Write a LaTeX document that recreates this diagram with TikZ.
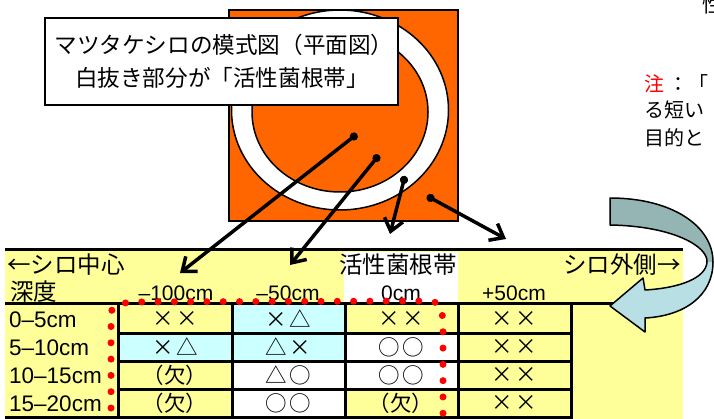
\documentclass[tikz,border=0pt]{standalone}
\usepackage{fontspec}
\setmainfont{Noto Sans CJK JP}
\newfontfamily\latf{Liberation Sans}
\usetikzlibrary{arrows.meta}
\definecolor{orng}{HTML}{FF6600}
\definecolor{ylw}{HTML}{FFFF99}
\definecolor{cyn}{HTML}{CCFFFF}
\definecolor{arrdark}{HTML}{95B4B4}
\definecolor{arrlight}{HTML}{B8DFE4}
\newcommand{\pairsym}[2]{\makebox[24pt]{#1}\makebox[24pt]{#2}}
\begin{document}
\begin{tikzpicture}[x=1pt,y=-1pt,
  gridline/.style={line width=3pt},
  pointer/.style={line width=3.5pt, {Circle[length=8pt]}-{Straight Barb[length=12pt,width=19pt]}},
  hdr/.style={font=\fontsize{23.5}{24}\selectfont, inner sep=0pt},
  colhdr/.style={font=\latf\fontsize{21}{22}\selectfont, inner sep=0pt},
  rowhdr/.style={font=\latf\fontsize{22.5}{23}\selectfont, inner sep=0pt, anchor=west},
  cellt/.style={font=\fontsize{21.5}{22}\selectfont, inner sep=0pt},
  note/.style={font=\fontsize{20}{22}\selectfont, inner sep=0pt, anchor=west},
  lbltext/.style={font=\fontsize{22.6}{24}\selectfont, inner sep=0pt},
  reddots/.style={red, line width=7pt, line cap=round, dash pattern=on 0pt off 16.3pt}]
\useasboundingbox (0,0) rectangle (714,419);
\clip (0,0) rectangle (714,419);
\fill[white] (0,0) rectangle (714,419);
% table backgrounds
\fill[ylw] (5,250) rectangle (683,419);
\fill[white] (344,252) rectangle (458,303);
\fill[cyn] (232,304) rectangle (345,361);
\fill[cyn] (118,333) rectangle (232,361);
\fill[white] (345,333) rectangle (458,389);
\fill[white] (232,361) rectangle (345,417);
% grid lines
\draw[gridline] (5,250) -- (683,250);
\draw[gridline] (5,304) -- (683,304);
\foreach \yy in {333,361,389} \draw[gridline] (118,\yy) -- (571,\yy);
\draw[gridline] (5,417) -- (571,417);
\foreach \xx in {118,232,345,458,571} \draw[gridline] (\xx,304) -- (\xx,419);
% header texts
\node[hdr, anchor=west] (hc) at (7,265) {←シロ中心};
\node[hdr, anchor=west] (hz) at (339,265) {活性菌根帯};
\node[hdr, anchor=east] (ho) at (681,265) {シロ外側→};
\node[hdr, anchor=west] (hd) at (10,292) {深度};
\node[colhdr] (c1) at (176,293) {–100cm};
\node[colhdr] (c2) at (288,293) {–50cm};
\node[colhdr] (c3) at (401,293) {0cm};
\node[colhdr] (c4) at (514,293) {+50cm};
% row labels
\node[rowhdr] (r1) at (9,320) {0–5cm};
\node[rowhdr] (r2) at (9,348) {5–10cm};
\node[rowhdr] (r3) at (9,376) {10–15cm};
\node[rowhdr] (r4) at (9,404) {15–20cm};
% cells
\node[cellt] (a11) at (175,319) {\pairsym{×}{×}};
\node[cellt] (a12) at (288,319) {\pairsym{×}{△}};
\node[cellt] (a13) at (401,319) {\pairsym{×}{×}};
\node[cellt] (a14) at (514,319) {\pairsym{×}{×}};
\node[cellt] (a21) at (175,347) {\pairsym{×}{△}};
\node[cellt] (a22) at (288,347) {\pairsym{△}{×}};
\node[cellt] (a23) at (401,347) {\pairsym{○}{○}};
\node[cellt] (a24) at (514,347) {\pairsym{×}{×}};
\node[cellt] (a31) at (175,375) {（欠）};
\node[cellt] (a32) at (288,375) {\pairsym{△}{○}};
\node[cellt] (a33) at (401,375) {\pairsym{○}{○}};
\node[cellt] (a34) at (514,375) {\pairsym{×}{×}};
\node[cellt] (a41) at (175,403) {（欠）};
\node[cellt] (a42) at (288,403) {\pairsym{○}{○}};
\node[cellt] (a43) at (401,403) {（欠）};
\node[cellt] (a44) at (514,403) {\pairsym{×}{×}};
% red dotted outline
\draw[reddots] (111,408) -- (111,322) .. controls (111,306) .. (130,302) -- (423,301) .. controls (441,302) .. (443,322) -- (443,430);
% schematic plan
\draw[fill=orng, line width=1.5pt] (229,10) rectangle (458,221);
\draw[fill=white, line width=1.5pt] (340,110) ellipse [x radius=108.5pt, y radius=100pt];
\draw[fill=orng, line width=1.5pt] (340,112) ellipse [x radius=88pt, y radius=80pt];
% pointers
\coordinate (d1) at (357,134); \coordinate (t1) at (180,273);
\coordinate (d2) at (379,155); \coordinate (t2) at (290,265);
\coordinate (d3) at (405,176); \coordinate (t3) at (390,234);
\coordinate (d4) at (427,196); \coordinate (t4) at (506,239);
\draw[pointer] (d1) -- (t1);
\draw[pointer] (d2) -- (t2);
\draw[pointer] (d3) -- (t3);
\draw[pointer] (d4) -- (t4);
% label box
\node[draw, fill=white, line width=1.5pt, minimum width=353pt, minimum height=87pt, inner sep=0pt] (lbl) at (221.5,61.5) {};
\node[lbltext] (l1) at (224,45) {マツタケシロの模式図（平面図）};
\node[lbltext] (l2) at (222,78) {白抜き部分が「活性菌根帯」};
% note (cut off at right, as in the source)
\node[note] (n0) at (702,5) {性};
\node[note] (n1) at (644,84) {\textcolor{red}{注} ：「};
\node[note] (n2) at (644,110) {る短い};
\node[note] (n3) at (644,138) {目的と};
% curved block arrow
\path[save path=\carr] (610,198) .. controls (672,198) and (713,226) .. (713,262) .. controls (713,296) and (684,316) .. (645,318) -- (645,332) -- (610,306) -- (643,278) -- (645,290) .. controls (680,288) and (706,278) .. (707,262) .. controls (708,246) and (672,226) .. (610,225) -- cycle;
\fill[arrlight, use path=\carr];
\begin{scope}
\clip (560,150) rectangle (714,262);
\fill[arrdark, use path=\carr];
\end{scope}
\draw[line width=1.5pt, line join=round, use path=\carr];
\end{tikzpicture}
\end{document}
